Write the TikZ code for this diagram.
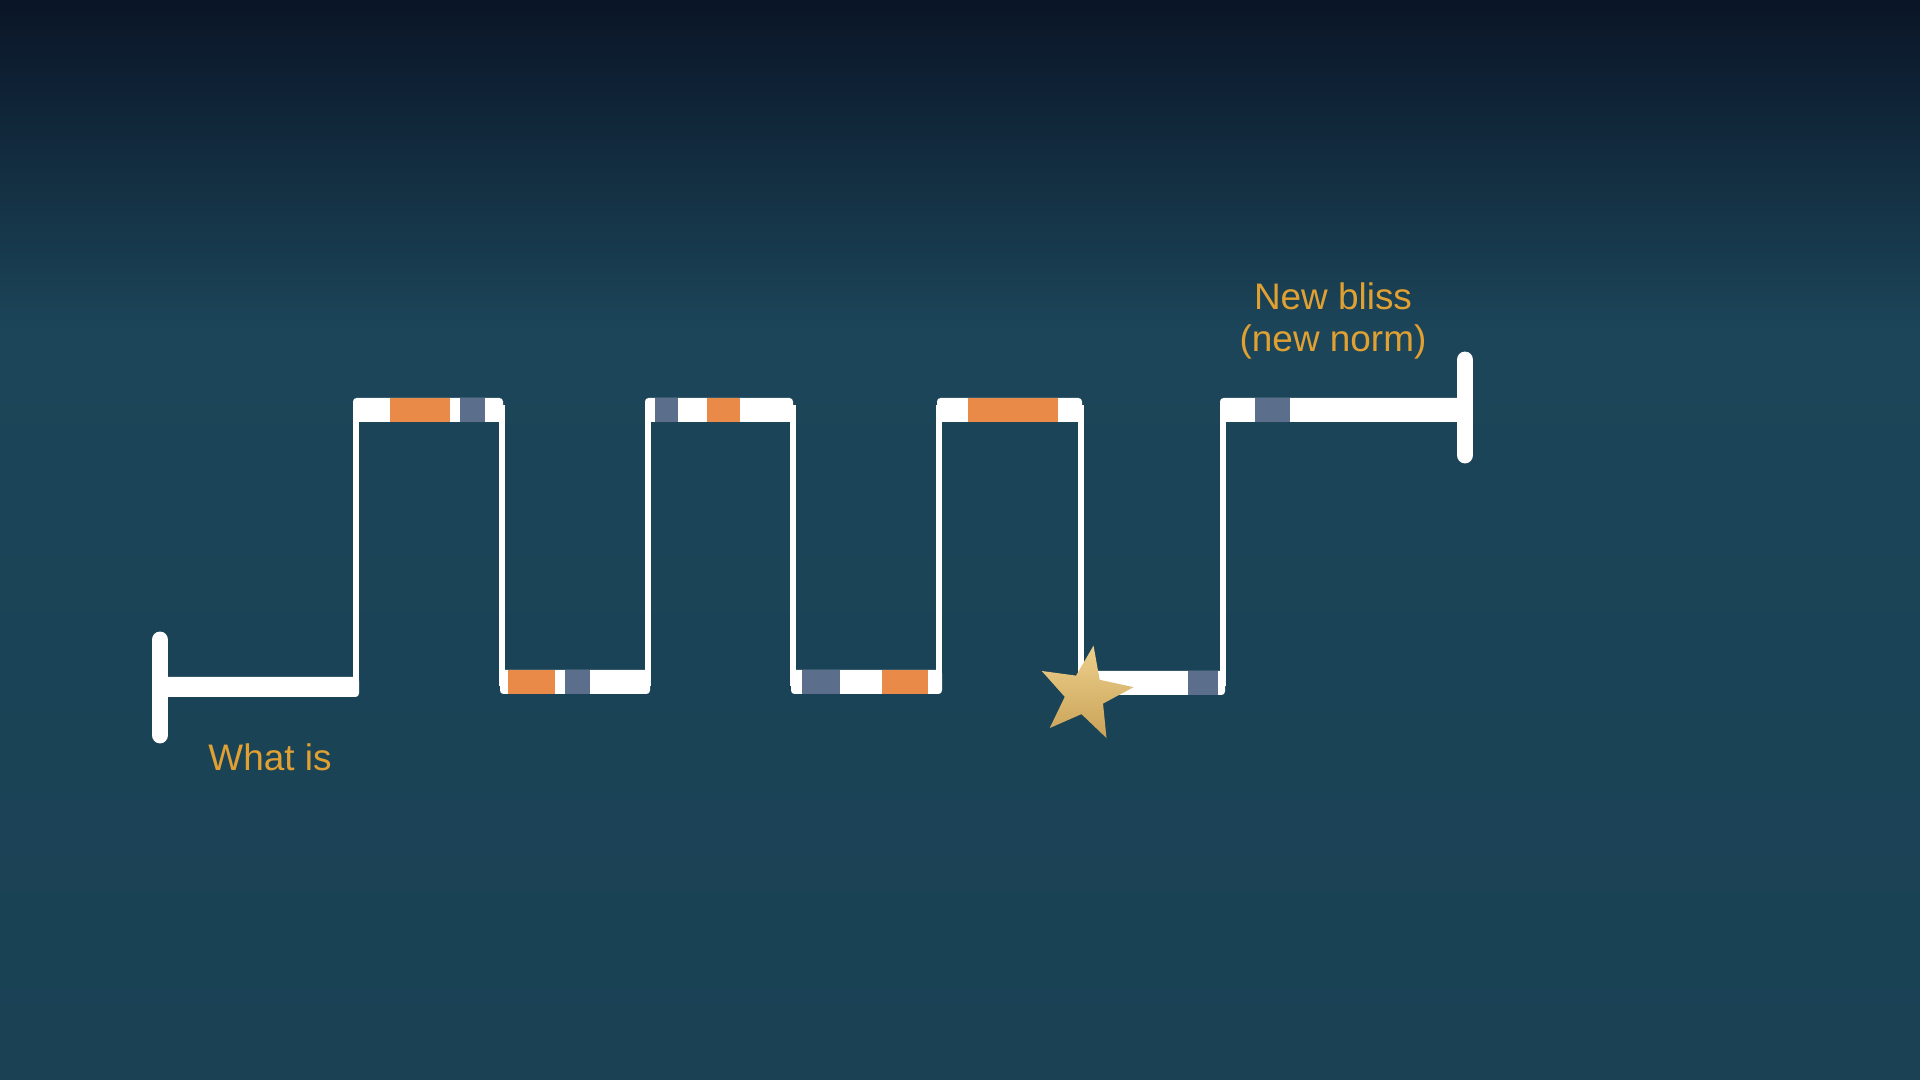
\documentclass[tikz,border=0pt]{standalone}
\usepackage{fontspec}
\setmainfont{Liberation Sans}
\usepackage{xcolor}
\usetikzlibrary{shapes.geometric}

\definecolor{bgtop}{HTML}{0A1527}
\definecolor{bgmid}{HTML}{1C4559}
\definecolor{bgbot}{HTML}{1A4154}
\definecolor{barorange}{HTML}{EA8A48}
\definecolor{bargray}{HTML}{5B6F8C}
\definecolor{textgold}{HTML}{E0A032}
\definecolor{starlight}{HTML}{EDD08C}
\definecolor{stardark}{HTML}{C9A257}

\begin{document}
\begin{tikzpicture}[
    x=0.01cm, y=-0.01cm,
    wire/.style={draw=white, line width=1.5pt},
    endcap/.style={draw=white, line width=4.8pt, line cap=round},
    hot/.style={fill=barorange},
    cool/.style={fill=bargray},
    note/.style={text=textgold, font=\fontsize{10.5}{12.2}\selectfont, align=center}
]

% background
\useasboundingbox (0,0) rectangle (1920,1080);
\shade[top color=bgtop, bottom color=bgmid] (0,0) rectangle (1920,330);
\shade[top color=bgmid, bottom color=bgbot] (0,329) rectangle (1920,1080);

% thin verticals
\foreach \x in {356,502,648,793,939,1081,1223}
    \draw[wire] (\x,405) -- (\x,686);

% start and end
\draw[endcap] (160,640) -- (160,735);
\draw[endcap] (1465,360) -- (1465,455);
\fill[white, rounded corners=1pt] (158,677) rectangle (359,697);

% top bars
\fill[white, rounded corners=1pt] (353,398) rectangle (503,422);
\fill[white, rounded corners=1pt] (645,398) rectangle (793,422);
\fill[white, rounded corners=1pt] (937,398) rectangle (1082,422);
\fill[white, rounded corners=1pt] (1220,398) rectangle (1462,422);

% bottom bars
\fill[white, rounded corners=1pt] (500,670) rectangle (650,694);
\fill[white, rounded corners=1pt] (791,670) rectangle (942,694);
\fill[white, rounded corners=1pt] (1079,671) rectangle (1225,695);

% coloured pieces
\fill[hot]  (390,398) rectangle (450,422);
\fill[cool] (460,398) rectangle (485,422);
\fill[hot]  (508,670) rectangle (555,694);
\fill[cool] (565,670) rectangle (590,694);
\fill[cool] (655,398) rectangle (678,422);
\fill[hot]  (707,398) rectangle (740,422);
\fill[cool] (802,670) rectangle (840,694);
\fill[hot]  (882,670) rectangle (928,694);
\fill[hot]  (968,398) rectangle (1058,422);
\fill[cool] (1188,671) rectangle (1218,695);
\fill[cool] (1255,398) rectangle (1290,422);

% star
\node[star, star points=5, star point ratio=2.4, minimum size=0.98cm, inner sep=0pt,
      rotate=-10, top color=starlight, bottom color=stardark] (star) at (1085,694) {};

% labels
\node[note] (whatis) at (270,757) {What is};
\node[note] (bliss) at (1333,321) {New bliss\\(new norm)};

\end{tikzpicture}
\end{document}
